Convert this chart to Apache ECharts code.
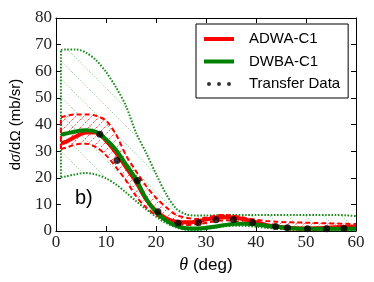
<!DOCTYPE html>
<html><head><meta charset="utf-8">
<script src="https://cdn.jsdelivr.net/npm/echarts@6/dist/echarts.min.js"></script>
<style>html,body{margin:0;padding:0;background:#fff}#c{width:374px;height:282px}</style>
</head><body><div id="c"></div>
<script>
const xs = [1,2,4,6,8,10,12,14,16,18,20,22,24,26,28,30,32,34,36,38,40,42,44,46,48,50,52,54,56,58,60];
const dwba   = [36.2,36.6,37.4,37.8,37.2,34.5,30.5,25.0,19.5,12.3,7.2,4.0,2.0,1.0,0.9,1.2,1.7,2.3,2.7,2.7,2.4,2.0,1.6,1.2,0.9,0.8,0.8,0.8,0.8,0.8,0.8];
const adwa   = [33.0,33.5,35.5,37.0,37.0,34.0,29.5,24.0,18.5,12.0,7.5,4.8,3.5,3.3,3.5,4.3,5.0,5.2,5.0,4.2,3.3,2.3,1.7,1.3,1.0,0.9,1.0,1.2,1.4,1.6,1.7];
const adwaUp = [42.7,43.2,43.8,43.8,43.3,41.5,36.3,28.5,22.5,17.0,12.5,9.0,6.1,5.0,4.5,5.0,5.8,6.0,5.6,4.9,4.2,3.8,3.5,3.3,3.2,3.1,3.0,2.9,2.8,2.7,2.6];
const adwaLo = [30.8,31.3,32.5,32.8,31.5,28.5,24.0,19.0,13.2,8.9,6.0,3.9,2.7,2.3,2.5,3.0,3.8,4.0,3.7,3.0,2.3,1.6,1.1,0.8,0.6,0.5,0.5,0.6,0.7,0.8,0.9];
const dwbaUp = [68.0,68.2,68.2,67.0,64.2,59.8,54.0,47.0,37.0,29.5,21.5,14.0,8.5,6.3,5.8,5.8,5.9,6.0,6.0,6.0,6.0,6.0,6.0,6.0,6.0,6.0,6.0,6.0,6.0,5.9,5.6];
const dwbaLo = [20.2,20.5,21.3,21.8,21.2,19.8,17.5,14.5,11.3,8.2,5.4,3.0,1.4,0.5,0.4,0.7,1.3,1.8,2.0,1.9,1.6,1.2,0.9,0.6,0.4,0.3,0.3,0.3,0.3,0.3,0.3];
const dataX = [8.8,12.2,16.3,20.4,24.4,28.5,32.0,35.5,39.3,43.9,46.3,50.3,54.1,57.6];
const dataY = [36.3,26.5,19.0,7.2,3.0,3.1,4.2,4.3,3.2,1.7,1.2,0.8,0.8,0.9];
const xTicks = [0,10,20,30,40,50,60];
const yTicks = [0,10,20,30,40,50,60,70,80];

const pair = a => xs.map((x,i)=>[x,a[i]]);
// [y, x] ordering so that stacking happens on the y dimension
const pairYX = a => xs.map((x,i)=>[a[i],x]);
const diffYX = (u,l) => xs.map((x,i)=>[+(u[i]-l[i]).toFixed(3), x]);

function hatch(color, s, forward, dash){
  const c = document.createElement('canvas'); c.width = s; c.height = s;
  const g = c.getContext('2d'); g.strokeStyle = color; g.lineWidth = 1; g.setLineDash(dash);
  g.beginPath();
  if (forward){ g.moveTo(0,s); g.lineTo(s,0); } else { g.moveTo(0,0); g.lineTo(s,s); }
  g.stroke();
  return {image:c, repeat:'repeat'};
}
const greenHatch = hatch('rgba(0,150,0,0.5)', 18, false, [1,2]);
const redHatch = hatch('rgba(255,30,30,0.75)', 8, true, [2,1.5]);

const serif = 'Liberation Serif';
const sans = 'Liberation Sans';
const chart = echarts.init(document.getElementById('c'), null, {renderer:'canvas'});
const hidden = {opacity:0, width:0};
const enc = {x:1, y:0};
const opt = {
  animation:false,
  grid:{left:50, right:18, top:18, bottom:51, show:false},
  legend:{
    orient:'vertical', left:196, top:24,
    backgroundColor:'#fff', borderColor:'#000', borderWidth:1, borderRadius:0,
    padding:[7,8,6,8], itemGap:6.5, itemWidth:30, itemHeight:4,
    textStyle:{fontFamily:sans, fontSize:15, color:'#000', lineHeight:16, padding:[0,0,0,10]},
    data:[
      {name:'ADWA-C1', icon:'rect'},
      {name:'DWBA-C1', icon:'rect'},
      {name:'Transfer Data', icon:'path://M0,2.5A2.5,2.5,0,1,1,5,2.5A2.5,2.5,0,1,1,0,2.5Z M12.5,2.5A2.5,2.5,0,1,1,17.5,2.5A2.5,2.5,0,1,1,12.5,2.5Z M25,2.5A2.5,2.5,0,1,1,30,2.5A2.5,2.5,0,1,1,25,2.5Z'}
    ]
  },
  graphic:[{type:'text', left:75, top:188, z:100, style:{text:'b)', font:'20px '+sans, fill:'#000'}}],
  xAxis:[
    {type:'value', min:xTicks[0], max:xTicks[xTicks.length-1], interval:10, position:'bottom',
     axisLine:{onZero:false, lineStyle:{color:'#000', width:1}},
     axisTick:{inside:true, length:5, lineStyle:{color:'#000'}},
     splitLine:{show:false},
     axisLabel:{fontFamily:serif, fontSize:17, color:'#222', margin:3},
     name:'{i|θ} (deg)', nameLocation:'middle', nameGap:22,
     nameTextStyle:{fontFamily:sans, fontSize:17, color:'#000', rich:{i:{fontFamily:serif, fontStyle:'italic', fontSize:18}}}},
    {type:'value', min:xTicks[0], max:xTicks[xTicks.length-1], interval:10, position:'top',
     axisLine:{onZero:false, lineStyle:{color:'#000', width:1}},
     axisTick:{inside:true, length:5, lineStyle:{color:'#000'}},
     splitLine:{show:false}, axisLabel:{show:false}}
  ],
  yAxis:[
    {type:'value', min:yTicks[0], max:yTicks[yTicks.length-1], interval:10, position:'left',
     axisLine:{show:true, onZero:false, lineStyle:{color:'#000', width:1}},
     axisTick:{show:true, inside:true, length:5, lineStyle:{color:'#000'}},
     splitLine:{show:false},
     axisLabel:{fontFamily:serif, fontSize:17, color:'#222', margin:4},
     name:'d{i|σ}/dΩ (mb/sr)', nameLocation:'middle', nameGap:28,
     nameTextStyle:{fontFamily:sans, fontSize:15, color:'#000', rich:{i:{fontFamily:serif, fontStyle:'italic', fontSize:16}}}},
    {type:'value', min:yTicks[0], max:yTicks[yTicks.length-1], interval:10, position:'right',
     axisLine:{show:true, onZero:false, lineStyle:{color:'#000', width:1}},
     axisTick:{show:true, inside:true, length:5, lineStyle:{color:'#000'}},
     splitLine:{show:false}, axisLabel:{show:false}}
  ],
  series:[
    {name:'gLo', type:'line', stack:'g', encode:enc, data:pairYX(dwbaLo), smooth:0.3, showSymbol:false, lineStyle:hidden, z:1, silent:true},
    {name:'gBand', type:'line', stack:'g', encode:enc, data:diffYX(dwbaUp,dwbaLo), smooth:0.3, showSymbol:false, lineStyle:hidden, areaStyle:{color:greenHatch, opacity:1}, z:1, silent:true},
    {name:'rLo', type:'line', stack:'r', encode:enc, data:pairYX(adwaLo), smooth:0.3, showSymbol:false, lineStyle:hidden, z:2, silent:true},
    {name:'rBand', type:'line', stack:'r', encode:enc, data:diffYX(adwaUp,adwaLo), smooth:0.3, showSymbol:false, lineStyle:hidden, areaStyle:{color:redHatch, opacity:1}, z:2, silent:true},
    {name:'gUpLine', type:'line', data:pair(dwbaUp), smooth:0.3, showSymbol:false, lineStyle:{color:'#1e8c1e', width:2, type:[1.6,1.6]}, z:3},
    {name:'gLoLine', type:'line', data:pair(dwbaLo), smooth:0.3, showSymbol:false, lineStyle:{color:'#1e8c1e', width:2, type:[1.6,1.6]}, z:3},
    {name:'gEdge', type:'line', data:[[xs[0],dwbaLo[0]],[xs[0],dwbaUp[0]]], showSymbol:false, lineStyle:{color:'#1e8c1e', width:2, type:[1.6,1.6]}, z:3},
    {name:'rUpLine', type:'line', data:pair(adwaUp), smooth:0.3, showSymbol:false, lineStyle:{color:'#ff0000', width:2, type:[5,3]}, z:4},
    {name:'rLoLine', type:'line', data:pair(adwaLo), smooth:0.3, showSymbol:false, lineStyle:{color:'#ff0000', width:2, type:[5,3]}, z:4},
    {name:'rEdge', type:'line', data:[[xs[0],adwaLo[0]],[xs[0],adwaUp[0]]], showSymbol:false, lineStyle:{color:'#ff0000', width:2, type:[5,3]}, z:4},
    {name:'ADWA-C1', type:'line', data:pair(adwa), smooth:0.3, showSymbol:false, color:'#ff0000', lineStyle:{color:'#ff0000', width:4}, z:5},
    {name:'DWBA-C1', type:'line', data:pair(dwba), smooth:0.3, showSymbol:false, color:'#008000', lineStyle:{color:'#008000', width:4}, z:6},
    {name:'Transfer Data', type:'scatter', data:dataX.map((x,i)=>[x,dataY[i]]), symbol:'circle', symbolSize:7, color:'#000', itemStyle:{color:'#000'}, z:7}
  ]
};
chart.setOption(opt);
</script></body></html>
